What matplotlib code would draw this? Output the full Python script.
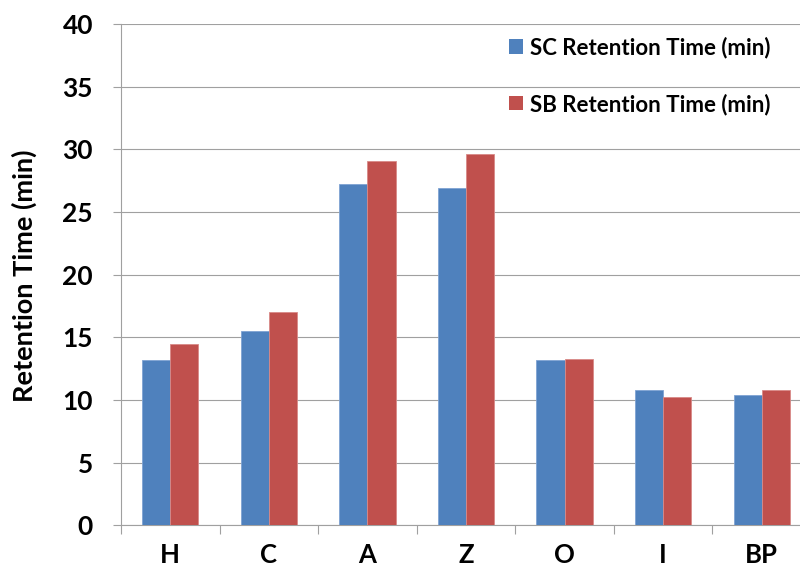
import matplotlib
matplotlib.use("Agg")
import matplotlib.pyplot as plt
from matplotlib.patches import Patch
import numpy as np

categories = ["H", "C", "A", "Z", "O", "I", "BP"]
sc_times = [13.2, 15.5, 27.2, 26.9, 13.2, 10.8, 10.4]
sb_times = [14.5, 17.0, 29.1, 29.6, 13.3, 10.2, 10.8]
series_labels = ["SC Retention Time (min)", "SB Retention Time (min)"]
y_ticks = [0, 5, 10, 15, 20, 25, 30, 35, 40]

BLUE = "#4F81BD"
RED = "#C0504D"
GRID = "#A0A0A0"
FONT = "Lato"

plt.rcParams["font.family"] = [FONT, "DejaVu Sans"]
plt.rcParams["font.weight"] = "bold"

W, H = 800, 572
fig = plt.figure(figsize=(W / 100, H / 100), dpi=100)
ax = fig.add_axes([121 / W, (H - 525.3) / H, 690 / W, 501.3 / H])

x = np.arange(len(categories))
bw = 1 / 3.5
ax.bar(x - bw / 2, sc_times, width=bw, color=BLUE, edgecolor="#7FA3D3",
       linewidth=0.6, zorder=3)
ax.bar(x + bw / 2, sb_times, width=bw, color=RED, edgecolor="#D88A88",
       linewidth=0.6, zorder=3)

ax.set_xlim(-0.5, len(categories) - 0.5)
ax.set_ylim(0, 40)

# y axis
ax.set_yticks(y_ticks)
ax.set_yticklabels([str(v) for v in y_ticks], fontsize=19, fontweight="bold")
ax.tick_params(axis="y", length=5.8, width=0.8, color=GRID, pad=14.4)
ax.yaxis.grid(True, color=GRID, linewidth=0.8, zorder=0)
ax.set_axisbelow(True)

# x axis: tick marks at category boundaries, labels at centres
ax.set_xticks(np.arange(-0.5, len(categories), 1.0))
ax.set_xticklabels([])
ax.tick_params(axis="x", which="major", length=6.5, width=0.8, color=GRID)
ax.set_xticks(x, minor=True)
ax.set_xticklabels(categories, minor=True, fontsize=18.5, fontweight="bold")
ax.tick_params(axis="x", which="minor", length=0, pad=12.5)

for side in ("top", "right"):
    ax.spines[side].set_visible(False)
for side in ("left", "bottom"):
    ax.spines[side].set_color(GRID)
    ax.spines[side].set_linewidth(0.8)

fig.text(24 / W, 1 - 275.5 / H, "Retention Time (min)", rotation=90,
         ha="center", va="center", fontsize=19.5, fontweight="bold")

handles = [Patch(facecolor=BLUE, edgecolor="none"), Patch(facecolor=RED, edgecolor="none")]
fig.legend(handles, series_labels, loc="upper left",
           bbox_to_anchor=(509 / W, 1 - 36.5 / H), frameon=False,
           prop={"family": FONT, "weight": "bold", "size": 16},
           handlelength=0.63, handleheight=0.63, handletextpad=0.31,
           labelspacing=1.58, borderpad=0, borderaxespad=0)

fig.savefig("out.png", dpi=100)
